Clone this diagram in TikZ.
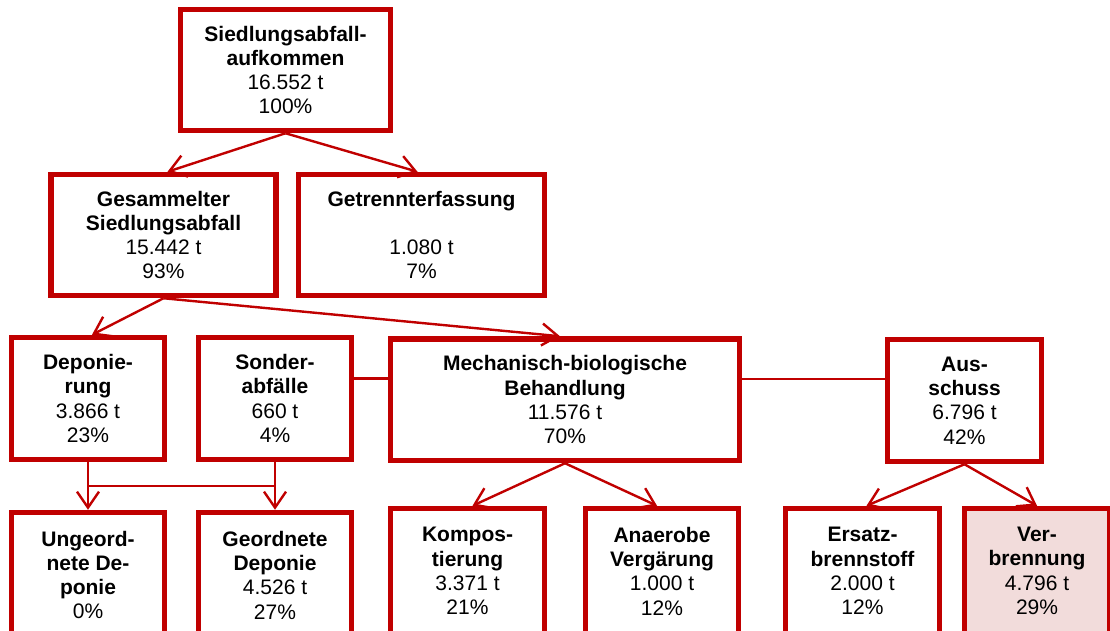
\documentclass[tikz,border=0pt]{standalone}
\usepackage{fontspec}
\setmainfont{Liberation Sans}
\usetikzlibrary{arrows.meta,calc}
\definecolor{framered}{RGB}{192,0,0}
\definecolor{burnfill}{RGB}{242,220,219}
\tikzset{
  flowbox/.style={draw=framered, line width=5.5pt, fill=white, align=center,
    inner sep=3pt, text=black, font=\fontsize{21}{24.3}\selectfont},
  flow/.style={draw=framered, line width=2.4pt,
    -{Straight Barb[length=16pt,width=22pt]}},
  link/.style={draw=framered, line width=2.4pt},
}
\begin{document}
\begin{tikzpicture}[x=1pt,y=-1pt]
\useasboundingbox (0,0) rectangle (1110,631);
\clip (0,0) rectangle (1110,631);

% top level
\node[flowbox, minimum width=210pt, minimum height=121pt] (total) at (285.5,70)
  {\textbf{Siedlungsabfall-}\\\textbf{aufkommen}\\16.552 t\\100\%};

% collection
\node[flowbox, minimum width=225pt, minimum height=121pt] (coll) at (163.5,235)
  {\textbf{Gesammelter}\\\textbf{Siedlungsabfall}\\15.442 t\\93\%};
\node[flowbox, minimum width=246pt, minimum height=121pt] (sep) at (421.5,235)
  {\textbf{Getrennterfassung}\\\mbox{}\\1.080 t\\7\%};

% treatment
\node[flowbox, minimum width=153pt, minimum height=122pt] (landfill) at (88,398.5)
  {\textbf{Deponie-}\\\textbf{rung}\\3.866 t\\23\%};
\node[flowbox, minimum width=153pt, minimum height=122pt] (special) at (275,398.5)
  {\textbf{Sonder-}\\\textbf{abfälle}\\660 t\\4\%};
\node[flowbox, minimum width=349pt, minimum height=121.5pt] (mbt) at (565,399.75)
  {\textbf{Mechanisch-biologische}\\\textbf{Behandlung}\\11.576 t\\70\%};
\node[flowbox, minimum width=154pt, minimum height=122pt] (reject) at (964.5,400.5)
  {\textbf{Aus-}\\\textbf{schuss}\\6.796 t\\42\%};

% final destinations
\node[flowbox, minimum width=153pt, minimum height=125pt] (unreg) at (88,575)
  {\textbf{Ungeord-}\\\textbf{nete De-}\\\textbf{ponie}\\0\%};
\node[flowbox, minimum width=153pt, minimum height=125pt] (reg) at (275,575)
  {\textbf{Geordnete}\\\textbf{Deponie}\\4.526 t\\27\%};
\node[flowbox, minimum width=154pt, minimum height=125pt] (compost) at (467.5,571)
  {\textbf{Kompos-}\\\textbf{tierung}\\3.371 t\\21\%};
\node[flowbox, minimum width=153pt, minimum height=125pt] (digest) at (662,571)
  {\textbf{Anaerobe}\\\textbf{Vergärung}\\1.000 t\\12\%};
\node[flowbox, minimum width=154pt, minimum height=125pt] (rdf) at (862.5,571)
  {\textbf{Ersatz-}\\\textbf{brennstoff}\\2.000 t\\12\%};
\node[flowbox, fill=burnfill, minimum width=145pt, minimum height=125pt] (burn) at (1037,571)
  {\textbf{Ver-}\\\textbf{brennung}\\4.796 t\\29\%};

% flows
\draw[flow] (total.south) -- ([xshift=4pt]coll.north);
\draw[flow] (total.south) -- ([xshift=-4pt]sep.north);
\draw[flow] (coll.south) -- ([xshift=4pt]landfill.north);
\draw[flow] (coll.south) -- ([xshift=-5pt]mbt.north);
\draw[flow] (mbt.south) -- ([xshift=5pt]compost.north);
\draw[flow] (mbt.south) -- ([xshift=-5pt]digest.north);
\draw[flow] (reject.south) -- ([xshift=4pt]rdf.north);
\draw[flow] (reject.south) -- (burn.north);
\draw[flow] (landfill.south) -- (unreg.north);
\draw[flow] (special.south) -- (reg.north);

% cross links
\coordinate (jl) at ($(landfill.south)!0.5!(unreg.north)$);
\coordinate (jr) at ($(special.south)!0.5!(reg.north)$);
\draw[link] (jl) -- (jr);
\draw[link] ([yshift=20pt]special.east) -- ([yshift=20pt]special.east -| mbt.west);
\draw[link] ([yshift=21pt]mbt.east) -- ([yshift=21pt]mbt.east -| reject.west);
\end{tikzpicture}
\end{document}
